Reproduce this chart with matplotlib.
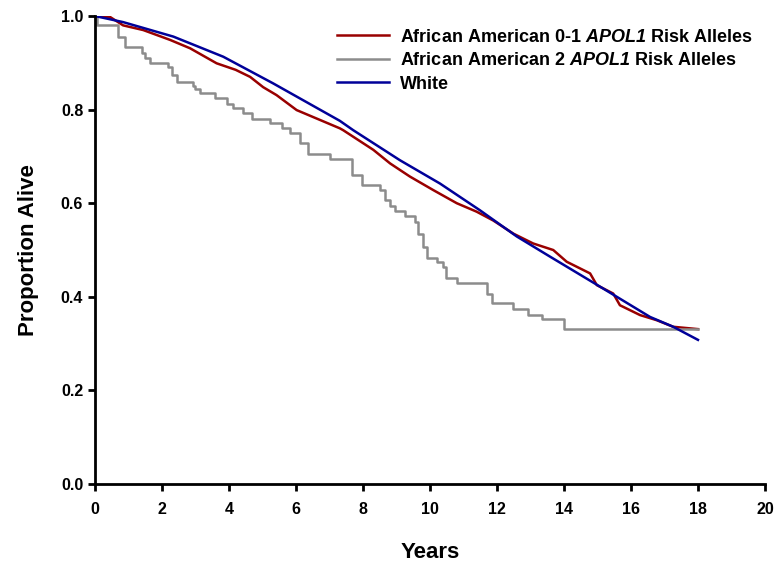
import matplotlib
matplotlib.use('Agg')
import matplotlib.pyplot as plt

plt.rcParams['font.family'] = 'Liberation Sans'
plt.rcParams['font.weight'] = 'bold'
plt.rcParams['mathtext.fontset'] = 'custom'
plt.rcParams['mathtext.rm'] = 'Liberation Sans:italic:bold'
plt.rcParams['mathtext.it'] = 'Liberation Sans:italic:bold'

# African American, 0-1 APOL1 risk alleles
aa01_years = [0, 0.45, 0.84, 1.44, 2.24, 2.84, 3.63, 4.2, 4.63, 5.02, 5.42, 6.02, 7.31, 7.41,
              8.31, 8.81, 9.4, 10.1, 10.8, 11.39, 11.89, 12.49, 13.08, 13.68, 14.08,
              14.78, 14.98, 15.47, 15.67, 16.27, 16.77, 17.26, 18.0]
aa01_surv = [1.0, 0.998, 0.98, 0.97, 0.949, 0.931, 0.899, 0.885, 0.87, 0.848, 0.831, 0.799, 0.76, 0.756,
             0.714, 0.685, 0.657, 0.628, 0.6, 0.582, 0.563, 0.535, 0.514, 0.5, 0.475,
             0.45, 0.425, 0.407, 0.382, 0.361, 0.35, 0.336, 0.331]

# African American, 2 APOL1 risk alleles (step curve)
aa2_years = [0, 0.06, 0.7, 0.9, 1.4, 1.5, 1.64, 2.18, 2.29, 2.44, 2.93, 3.0, 3.13, 3.58,
             3.93, 4.13, 4.43, 4.68, 5.22, 5.57, 5.82, 6.12, 6.37, 7.01, 7.66, 7.96,
             8.51, 8.66, 8.81, 8.96, 9.25, 9.55, 9.65, 9.8, 9.9, 10.2, 10.4, 10.47,
             10.8, 11.69, 11.84, 12.49, 12.94, 13.33, 14.0, 18.0]
aa2_surv = [1.0, 0.98, 0.955, 0.934, 0.92, 0.91, 0.90, 0.892, 0.875, 0.86, 0.85, 0.845, 0.836, 0.824,
            0.813, 0.803, 0.792, 0.781, 0.771, 0.76, 0.749, 0.728, 0.705, 0.694, 0.66, 0.639,
            0.628, 0.607, 0.593, 0.583, 0.573, 0.56, 0.535, 0.507, 0.484, 0.475, 0.464, 0.44,
            0.429, 0.407, 0.386, 0.373, 0.362, 0.352, 0.331, 0.331]

# White
white_years = [0, 0.84, 2.34, 3.83, 5.32, 7.31, 7.71, 9.1, 10.3, 11.49, 12.59, 13.58,
               15.07, 16.57, 17.26, 18.0]
white_surv = [1.0, 0.987, 0.956, 0.913, 0.856, 0.776, 0.756, 0.692, 0.642, 0.585, 0.529, 0.486,
              0.422, 0.357, 0.336, 0.308]

fig = plt.figure(figsize=(7.76, 5.64), dpi=100)
ax = fig.add_axes([0.1224, 0.1418, 0.8634, 0.8298])

ax.plot(aa01_years, aa01_surv, color='#990000', lw=1.8,
        label=r'African American 0-1 $\mathrm{APOL1}$ Risk Alleles')
ax.step(aa2_years, aa2_surv, where='post', color='#8c8c8c', lw=1.8,
        label=r'African American 2 $\mathrm{APOL1}$ Risk Alleles')
ax.plot(white_years, white_surv, color='#000099', lw=1.8, label='White')

ax.set_xlim(0, 20)
ax.set_ylim(0, 1.0)
ax.set_xticks(range(0, 21, 2))
ax.set_yticks([0, 0.2, 0.4, 0.6, 0.8, 1.0])
ax.set_yticklabels(['0.0', '0.2', '0.4', '0.6', '0.8', '1.0'])
ax.tick_params(width=2, length=5, labelsize=11.5)
ax.tick_params(axis='x', pad=8)
for s in ['top', 'right']:
    ax.spines[s].set_visible(False)
for s in ['left', 'bottom']:
    ax.spines[s].set_linewidth(2)

ax.set_xlabel('Years', fontsize=16, fontweight='bold', labelpad=18)
ax.set_ylabel('Proportion Alive', fontsize=16, fontweight='bold', labelpad=16)

ax.legend(loc='upper right', bbox_to_anchor=(1.0, 1.0), frameon=False, fontsize=13,
          handlelength=2.9, handletextpad=0.6, labelspacing=0.36, borderaxespad=0.3)

fig.savefig('out.png', dpi=100)
